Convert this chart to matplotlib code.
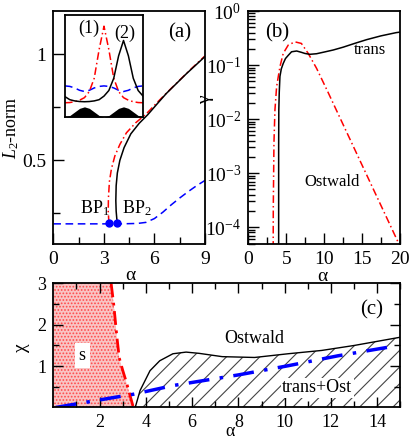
import matplotlib
matplotlib.use('Agg')
import matplotlib.pyplot as plt
import numpy as np

plt.rcParams['font.family'] = ['Liberation Serif', 'DejaVu Serif']
plt.rcParams['mathtext.fontset'] = 'custom'
plt.rcParams['mathtext.rm'] = 'Liberation Serif'
plt.rcParams['mathtext.it'] = 'Liberation Serif:italic'
plt.rcParams['hatch.linewidth'] = 0.8

# ---- panel (a): L2-norm vs alpha ----
a_blue_x = [0, 1, 2, 3, 4, 5, 5.5, 6, 6.5, 7, 7.5, 8, 8.5, 9]
a_blue_y = [0.2, 0.2, 0.2, 0.2, 0.2, 0.202, 0.207, 0.225, 0.255, 0.29, 0.322, 0.352, 0.38, 0.405]
a_black_x = [3.79, 3.73, 3.71, 3.73, 3.8, 3.95, 4.2, 4.6, 5.1, 5.6, 6.2, 6.7, 7.3, 7.9, 8.5, 9.0]
a_black_y = [0.204, 0.26, 0.31, 0.38, 0.44, 0.5, 0.56, 0.625, 0.675, 0.715, 0.77, 0.815, 0.862, 0.909, 0.953, 0.99]
a_red_x = [3.3, 3.26, 3.27, 3.33, 3.45, 3.65, 3.95, 4.34, 4.9, 5.5, 6.2, 7.0, 8.0, 9.0]
a_red_y = [0.204, 0.26, 0.32, 0.4, 0.46, 0.52, 0.575, 0.63, 0.678, 0.718, 0.776, 0.84, 0.918, 0.993]
bp_x = [3.3, 3.79]
bp_y = [0.204, 0.204]

# inset profiles (arbitrary units)
ins_x = [0, 0.0625, 0.125, 0.1875, 0.25, 0.3125, 0.375, 0.4375, 0.5,
         0.5625, 0.625, 0.6875, 0.75, 0.8125, 0.875, 0.9375, 1.0]
ins_sub = [0, 0.015, 0.05, 0.085, 0.1, 0.085, 0.05, 0.015, 0,
           0.015, 0.05, 0.085, 0.1, 0.085, 0.05, 0.015, 0]
ins_red = [0.14, 0.142, 0.15, 0.165, 0.19, 0.25, 0.38, 0.66, 0.89,
           0.66, 0.38, 0.25, 0.19, 0.165, 0.15, 0.142, 0.14]
ins_black = [0.2, 0.17, 0.158, 0.152, 0.15, 0.152, 0.158, 0.17, 0.205,
             0.26, 0.38, 0.6, 0.75, 0.6, 0.38, 0.26, 0.205]
ins_blue = [0.305, 0.3, 0.285, 0.262, 0.25, 0.262, 0.285, 0.3, 0.305,
            0.3, 0.285, 0.262, 0.25, 0.262, 0.285, 0.3, 0.305]

# ---- panel (b): gamma vs alpha ----
b_black_x = [4.0, 4.0, 4.02, 4.08, 4.17, 4.35, 4.6, 4.9, 5.26, 5.7, 6.37, 7.0, 7.46, 8.1,
             9.0, 10.0, 11.2, 12.5, 14.0, 15.6, 17.5, 19.5, 20.0]
b_black_y = [4e-5, 3.2e-3, 0.0148, 0.0316, 0.0617, 0.085, 0.107, 0.132, 0.151, 0.176, 0.182,
             0.172, 0.164, 0.158, 0.162, 0.174, 0.19, 0.214, 0.251, 0.295, 0.347, 0.398, 0.407]
b_red_x = [3.28, 3.29, 3.38, 3.51, 3.73, 4.17, 4.6, 5.26, 6.14, 7.0, 7.9, 9.0, 10.5, 12.0,
           13.5, 15.0, 16.5, 18.0, 19.5, 20.0]
b_red_y = [4e-5, 2.14e-4, 3.63e-3, 0.0148, 0.0398, 0.0933, 0.164, 0.234, 0.269, 0.251, 0.164,
           0.087, 0.0316, 0.0112, 3.98e-3, 1.41e-3, 5.01e-4, 1.78e-4, 6.3e-5, 4.47e-5]

# ---- panel (c): chi vs alpha ----
c_red_x = [2.5, 2.61, 2.75, 2.85, 3.0, 3.18, 3.46]
c_red_y = [3.0, 2.5, 1.7, 1.2, 0.9, 0.57, 0.0]
c_black_x = [3.54, 3.75, 4.18, 4.6, 5.17, 5.74, 6.3, 7.3, 8.7, 10.15, 11.6, 13.0, 15.0]
c_black_y = [0.0, 0.41, 0.89, 1.13, 1.3, 1.34, 1.31, 1.23, 1.21, 1.3, 1.38, 1.5, 1.7]
c_blue_x = [0.1, 2.6, 3.46, 5.17, 8.02, 10.15, 12.3, 14.6]
c_blue_y = [0.0, 0.24, 0.32, 0.53, 0.79, 1.01, 1.25, 1.47]

fig = plt.figure(figsize=(4.11, 4.40), dpi=100)

def style(ax, size=14):
    ax.tick_params(which='both', direction='in', labelsize=size, pad=5, width=1)
    ax.tick_params(which='major', length=8)
    ax.tick_params(which='minor', length=5)
    for s in ax.spines.values():
        s.set_linewidth(1.3)

# panel (a)
ax1 = fig.add_axes([0.1297, 0.4455, 0.369, 0.5295])
ax1.plot(a_blue_x, a_blue_y, color='blue', ls=(0, (5, 3)), lw=1.1)
ax1.plot(a_red_x, a_red_y, color='red', ls=(0, (5, 2, 1, 2)), lw=1.1)
ax1.plot(a_black_x, a_black_y, color='black', lw=1.1)
ax1.plot(bp_x, bp_y, 'o', color='blue', ms=5)
ax1.set_xlim(0, 9)
ax1.set_ylim(0.105, 1.205)
ax1.set_xticks([0, 3, 6, 9])
ax1.set_xticks([1.5, 4.5, 7.5], minor=True)
ax1.set_yticks([0.5, 1])
ax1.set_yticklabels(['0.5', '1'])
ax1.set_yticks([0.25, 0.75], minor=True)
style(ax1)
ax1.set_xlabel('α', fontsize=14)
ax1.xaxis.set_label_coords(0.506, -0.1)
ax1.set_ylabel('$L_2$-norm', fontsize=13)
ax1.yaxis.set_label_coords(-0.215, 0.5)
ax1.text(7.5, 1.104, '(a)', fontsize=15, ha='center', va='center')
ax1.text(1.58, 0.25, 'BP$_1$', fontsize=13, ha='left', va='baseline')
ax1.text(4.05, 0.25, 'BP$_2$', fontsize=13, ha='left', va='baseline')

# inset
axi = fig.add_axes([0.158, 0.734, 0.19, 0.232])
axi.fill_between(ins_x, 0, ins_sub, color='black', lw=0)
axi.plot(ins_x, ins_blue, color='blue', ls=(0, (5, 3)), lw=1.1)
axi.plot(ins_x, ins_red, color='red', ls=(0, (5, 2, 1, 2)), lw=1.1)
axi.plot(ins_x, ins_black, color='black', lw=1.1)
axi.set_xlim(0, 1)
axi.set_ylim(0, 1)
axi.set_xticks([])
axi.set_yticks([])
for s in axi.spines.values():
    s.set_linewidth(1.3)
axi.text(0.3, 0.87, '(1)', fontsize=13, ha='center', va='center', transform=axi.transAxes)
axi.text(0.76, 0.82, '(2)', fontsize=13, ha='center', va='center', transform=axi.transAxes)

# panel (b)
ax2 = fig.add_axes([0.6042, 0.4455, 0.369, 0.5295])
ax2.plot(b_red_x, b_red_y, color='red', ls=(0, (5, 2, 1, 2)), lw=1.1)
ax2.plot(b_black_x, b_black_y, color='black', lw=1.1)
ax2.set_yscale('log')
ax2.set_xlim(0, 20)
ax2.set_ylim(4.9e-5, 1)
ax2.set_xticks([0, 5, 10, 15, 20])
ax2.set_xticks([2.5, 7.5, 12.5, 17.5], minor=True)
style(ax2)
ax2.set_xlabel('α', fontsize=14)
ax2.xaxis.set_label_coords(0.49, -0.105)
ax2.set_ylabel('γ', fontsize=14, rotation=90)
ax2.yaxis.set_label_coords(-0.225, 0.62)
ax2.text(3.8, 0.4, '(b)', fontsize=15, ha='center', va='center')
ax2.text(16.0, 0.19, 'trans', fontsize=12, ha='center', va='center')
ax2.text(11.1, 6.8e-4, 'Ostwald', fontsize=12, ha='center', va='center')

# panel (c)
ax3 = fig.add_axes([0.1297, 0.0739, 0.8443, 0.2818])
ax3.fill_betweenx(c_red_y, 0, c_red_x, facecolor='#f9c4c4', hatch='.....',
                  edgecolor='#ff4a4a', lw=0)
ax3.fill_between(c_black_x, 0, c_black_y, facecolor='white', hatch='//',
                 edgecolor='#444444', lw=0)
ax3.plot(c_black_x, c_black_y, color='black', lw=1.0)
ax3.plot(c_red_x, c_red_y, color='red', ls=(0, (5, 2, 1, 2)), lw=2)
ax3.plot(c_blue_x, c_blue_y, color='blue', ls=(0, (6, 3, 1, 3)), lw=2.5)
ax3.set_xlim(0, 15)
ax3.set_ylim(0, 3)
ax3.set_xticks([2, 4, 6, 8, 10, 12, 14])
ax3.set_xticks([1, 3, 5, 7, 9, 11, 13, 15], minor=True)
ax3.set_yticks([1, 2, 3])
ax3.set_yticks([0.5, 1.5, 2.5], minor=True)
style(ax3, 13)
ax3.tick_params(which='both', top=True, right=True)
ax3.tick_params(which='major', length=7)
ax3.tick_params(which='minor', length=4)
ax3.set_xlabel('α', fontsize=13)
ax3.xaxis.set_label_coords(0.509, -0.125)
ax3.set_ylabel('χ', fontsize=14)
ax3.yaxis.set_label_coords(-0.068, 0.48)
ax3.text(1.25, 1.26, 's', fontsize=13, ha='center', va='center',
         bbox=dict(facecolor='white', edgecolor='none', pad=3))
ax3.text(8.67, 1.67, 'Ostwald', fontsize=13, ha='center', va='center')
ax3.text(11.4, 0.48, 'trans+Ost', fontsize=13, ha='center', va='center',
         bbox=dict(facecolor='white', edgecolor='none', pad=1))
ax3.text(13.77, 2.35, '(c)', fontsize=15, ha='center', va='center')

fig.savefig('out.png', dpi=100)
